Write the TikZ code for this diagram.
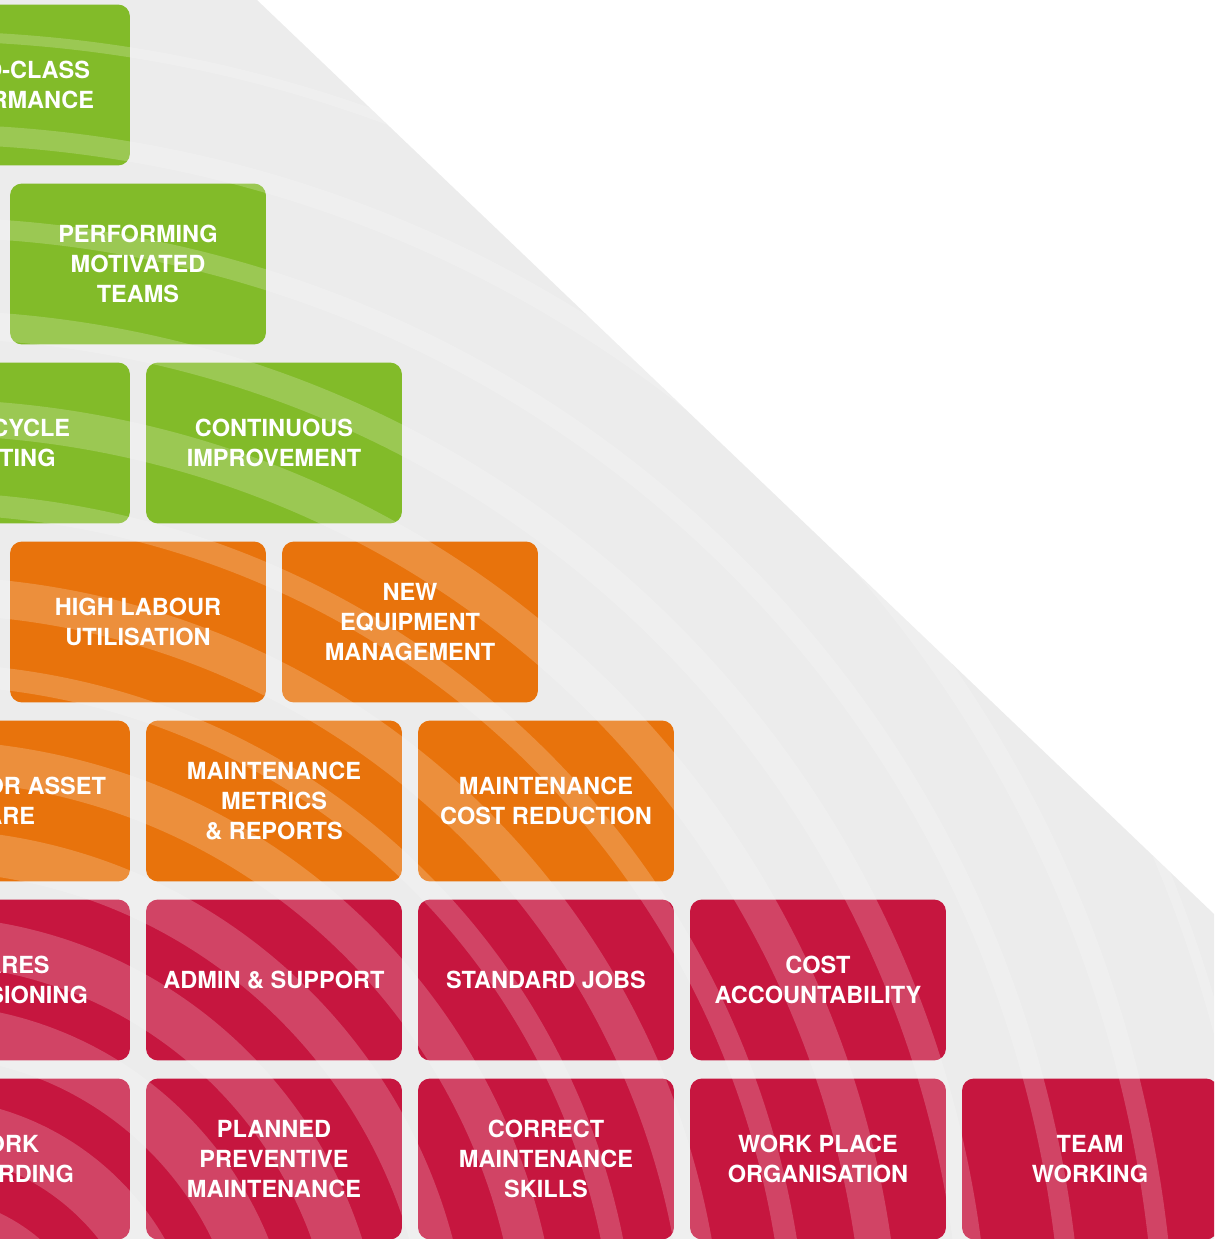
\documentclass[tikz,border=0pt]{standalone}
\usepackage{fontspec}
\setmainfont{TeX Gyre Heros}

\definecolor{pgreen}{HTML}{82BB29}
\definecolor{porange}{HTML}{E8730C}
\definecolor{pred}{HTML}{C6163F}
\definecolor{pgrey}{HTML}{ECECEC}

\begin{document}
\begin{tikzpicture}[x=0.02cm,y=-0.02cm,
  block/.style={rounded corners=0.24cm, minimum width=5.12cm, minimum height=3.22cm,
    inner sep=0pt, text=white, align=center,
    font=\fontsize{13.4}{17}\selectfont\bfseries},
  greenblock/.style={block, fill=pgreen},
  orangeblock/.style={block, fill=porange},
  redblock/.style={block, fill=pred}]
\useasboundingbox (0,0) rectangle (1214,1239);
\clip (0,0) rectangle (1214,1239);
% grey backdrop with its ripples
\fill[pgrey] (0,0) -- (257,0) -- (1214,914) -- (1214,1239) -- (0,1239) -- cycle;
\begin{scope}
\clip (0,0) -- (257,0) -- (1214,914) -- (1214,1239) -- (0,1239) -- cycle;
\foreach \r/\w in {1440/14,1344/10,1246/20,1153/20,1056/28,963/36,877/22,785/38,706/22,620/40,530/42,440/48,350/52,255/55,160/50}
  \draw[white, opacity=0.2, line width={\w*0.02cm}] (-80,1380) circle[radius=\r];
\end{scope}
% top
\node[greenblock] (worldclass) at (2,85) {WORLD-CLASS\\PERFORMANCE};
\node[greenblock] (teams) at (138,264) {PERFORMING\\MOTIVATED\\TEAMS};
\node[greenblock] (lifecycle) at (2,443) {LIFE CYCLE\\COSTING};
\node[greenblock] (improve) at (274,443) {CONTINUOUS\\IMPROVEMENT};
% middle
\node[orangeblock] (labour) at (138,622) {HIGH LABOUR\\UTILISATION};
\node[orangeblock] (newequip) at (410,622) {NEW\\EQUIPMENT\\MANAGEMENT};
\node[orangeblock] (assetcare) at (2,801) {SUPERIOR ASSET\\CARE};
\node[orangeblock] (metrics) at (274,801) {MAINTENANCE\\METRICS\\\& REPORTS};
\node[orangeblock] (costred) at (546,801) {MAINTENANCE\\COST REDUCTION};
% base
\node[redblock] (spares) at (2,980) {SPARES\\PROVISIONING};
\node[redblock] (admin) at (274,980) {ADMIN \& SUPPORT};
\node[redblock] (stdjobs) at (546,980) {STANDARD JOBS};
\node[redblock] (costacc) at (818,980) {COST\\ACCOUNTABILITY};
\node[redblock] (workrec) at (2,1159) {WORK\\RECORDING};
\node[redblock] (ppm) at (274,1159) {PLANNED\\PREVENTIVE\\MAINTENANCE};
\node[redblock] (skills) at (546,1159) {CORRECT\\MAINTENANCE\\SKILLS};
\node[redblock] (workplace) at (818,1159) {WORK PLACE\\ORGANISATION};
\node[redblock] (teamwork) at (1090,1159) {TEAM\\WORKING};
% ripples over the blocks
\begin{scope}
\clip[rounded corners=0.24cm] \foreach \n in {worldclass,teams,lifecycle,improve,labour,newequip,assetcare,metrics,costred,spares,admin,stdjobs,costacc,workrec,ppm,skills,workplace,teamwork} {(\n.south west) rectangle (\n.north east)};
\foreach \r/\w in {1440/14,1344/10,1246/20,1153/20,1056/28,963/36,877/22,785/38,706/22,620/40,530/42,440/48,350/52,255/55,160/50}
  \draw[white, opacity=0.2, line width={\w*0.02cm}] (-80,1380) circle[radius=\r];
\end{scope}
\end{tikzpicture}
\end{document}
